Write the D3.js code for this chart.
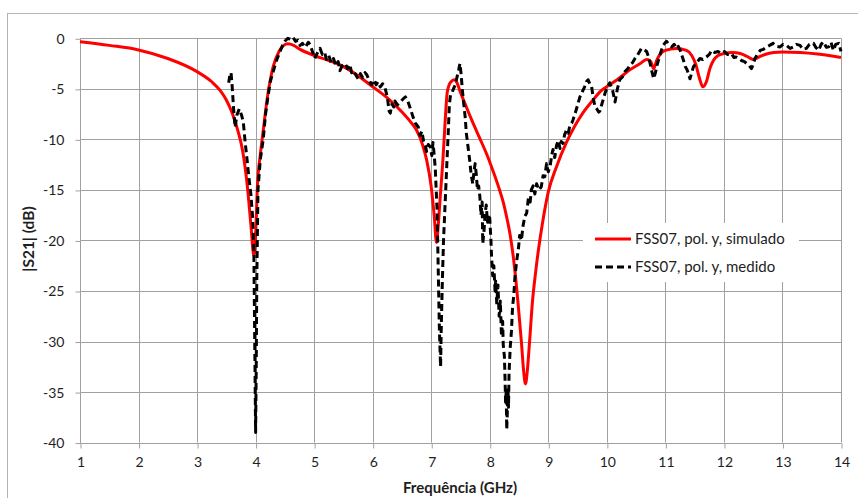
<!DOCTYPE html>
<html>
<head>
<meta charset="utf-8">
<script src="https://cdn.jsdelivr.net/npm/d3@7"></script>
<style>
  html, body { margin: 0; padding: 0; background: #fff; }
  svg { display: block; font-family: Lato, "Open Sans", sans-serif; }
</style>
</head>
<body>
<svg id="chart" width="858" height="498"></svg>
<script>
// |S21| of FSS07, y polarisation: simulated vs measured
const xTicks = [1,2,3,4,5,6,7,8,9,10,11,12,13,14];
const yTicks = [0,-5,-10,-15,-20,-25,-30,-35,-40];

const seriesNames = ["FSS07, pol. y, simulado", "FSS07, pol. y, medido"];

// simulated response [GHz, dB]
const simulado = [
  [1,-0.33],[1.5,-0.7],[2,-1.15],[2.5,-2.0],[3,-3.3],[3.25,-4.3],[3.4,-5.2],[3.5,-6.1],[3.6,-7.4],
  [3.7,-9.2],[3.78,-11.2],[3.86,-14.7],[3.92,-18.5],[3.97,-21.5],[4.0,-19.5],[4.03,-14.7],[4.08,-11.5],
  [4.12,-9.6],[4.21,-5.5],[4.3,-2.8],[4.4,-1.3],[4.48,-0.7],[4.55,-0.55],[4.65,-0.7],[4.76,-1.1],
  [5.0,-1.7],[5.25,-2.2],[5.5,-2.8],[5.75,-3.7],[6.0,-4.8],[6.25,-5.9],[6.5,-7.3],[6.65,-8.3],
  [6.75,-9.1],[6.85,-10.5],[6.92,-12],[7.0,-14.7],[7.05,-17.5],[7.09,-20.2],[7.12,-18.5],[7.15,-16],
  [7.2,-12],[7.24,-8],[7.27,-5.5],[7.3,-4.7],[7.34,-4.3],[7.39,-4.1],[7.44,-4.4],[7.49,-5.2],
  [7.6,-6.8],[7.7,-8.2],[7.83,-9.9],[7.95,-11.5],[8.06,-13.2],[8.15,-14.7],[8.23,-16.2],[8.3,-18],
  [8.35,-19.5],[8.42,-22.5],[8.48,-26],[8.54,-30],[8.58,-33],[8.61,-34.2],[8.64,-33],[8.68,-30],
  [8.73,-26],[8.78,-23.3],[8.83,-21],[8.9,-18.3],[9.0,-15.2],[9.14,-12.7],[9.31,-10.3],[9.45,-8.7],
  [9.6,-7.3],[9.75,-6.2],[9.9,-5.2],[10.05,-4.6],[10.22,-3.9],[10.4,-3.1],[10.57,-2.5],[10.68,-2.1],
  [10.75,-2.3],[10.8,-3.0],[10.85,-2.2],[10.92,-1.5],[11.0,-1.2],[11.19,-1.0],[11.36,-1.2],[11.45,-1.7],
  [11.52,-2.6],[11.58,-3.9],[11.64,-4.8],[11.7,-4.3],[11.76,-3.0],[11.82,-2.2],[11.9,-1.7],[12.0,-1.5],
  [12.15,-1.4],[12.28,-1.5],[12.4,-1.8],[12.5,-2.1],[12.58,-1.9],[12.7,-1.6],[12.85,-1.4],[13.0,-1.35],
  [13.3,-1.4],[13.6,-1.55],[14,-1.9]
];

// measured response [GHz, dB]
const medido = [
  [3.54,-4.4],[3.56,-3.6],[3.58,-3.4],[3.6,-4.8],[3.63,-7.5],[3.65,-8.8],[3.68,-7.6],[3.72,-7.0],
  [3.76,-7.6],[3.79,-8.3],[3.82,-10.2],[3.85,-11.8],[3.88,-13.5],[3.92,-15.5],[3.95,-17.8],[3.97,-21],
  [3.98,-27],[3.99,-33],[4.0,-39],[4.01,-33],[4.02,-24],[4.04,-15],[4.08,-12],[4.13,-10],[4.17,-7.5],
  [4.21,-5.8],[4.25,-4.3],[4.29,-3.5],[4.35,-2.3],[4.41,-1.4],[4.46,-0.7],[4.5,-0.3],[4.55,0.0],
  [4.6,-0.1],[4.64,0.1],[4.68,-0.3],[4.72,-0.2],[4.76,-0.7],[4.8,-0.5],[4.85,-0.9],[4.9,-0.4],
  [4.93,-0.6],[4.97,-1.3],[5.01,-2.0],[5.05,-1.5],[5.1,-1.0],[5.14,-1.6],[5.18,-1.4],[5.21,-2.1],
  [5.25,-1.7],[5.29,-2.4],[5.33,-2.0],[5.37,-2.7],[5.41,-2.3],[5.44,-3.2],[5.48,-2.7],[5.53,-2.5],
  [5.57,-3.0],[5.61,-2.6],[5.64,-3.4],[5.67,-3.2],[5.71,-3.6],[5.75,-4.0],[5.79,-3.5],[5.83,-3.9],
  [5.87,-3.4],[5.9,-3.6],[5.94,-4.2],[5.98,-4.6],[6.02,-4.1],[6.06,-4.6],[6.09,-4.3],[6.13,-4.8],
  [6.17,-4.5],[6.21,-4.9],[6.25,-5.8],[6.28,-7.2],[6.3,-7.4],[6.33,-6.5],[6.36,-6.8],[6.38,-6.2],
  [6.42,-6.6],[6.47,-6.3],[6.52,-6.0],[6.56,-5.8],[6.6,-6.2],[6.64,-6.9],[6.69,-7.8],[6.73,-8.4],
  [6.78,-8.8],[6.81,-9.6],[6.84,-9.2],[6.87,-10.2],[6.9,-10.6],[6.92,-11.2],[6.95,-10.5],[6.98,-10.7],
  [7.01,-11.6],[7.03,-10.3],[7.05,-11.5],[7.07,-13],[7.1,-17],[7.12,-23],[7.14,-29],[7.16,-32.5],
  [7.17,-29],[7.19,-24],[7.21,-20],[7.24,-16],[7.27,-12],[7.29,-9.4],[7.31,-6.5],[7.33,-5.6],
  [7.36,-5.3],[7.38,-5.0],[7.41,-4.6],[7.43,-4.1],[7.45,-3.6],[7.47,-3.1],[7.49,-2.5],[7.51,-3.5],
  [7.53,-5.0],[7.55,-6.2],[7.58,-7.8],[7.6,-9.4],[7.63,-10.8],[7.66,-12.2],[7.68,-13.4],[7.71,-14.4],
  [7.73,-13.2],[7.75,-12.4],[7.77,-13.5],[7.79,-15],[7.81,-14.6],[7.83,-15.6],[7.85,-17.5],[7.87,-16.2],
  [7.88,-20.3],[7.9,-19.2],[7.92,-17.4],[7.94,-16.5],[7.96,-18.2],[7.98,-17.4],[8.0,-17.8],[8.02,-20],
  [8.03,-21.5],[8.05,-23.5],[8.07,-22.5],[8.09,-25],[8.1,-24],[8.12,-26.3],[8.14,-24.4],[8.16,-27.5],
  [8.18,-26],[8.2,-29.5],[8.22,-28],[8.23,-30.3],[8.25,-31.5],[8.26,-33.5],[8.27,-36],[8.28,-35],
  [8.29,-38.7],[8.3,-37],[8.31,-34.5],[8.32,-36.5],[8.33,-33],[8.35,-30.5],[8.37,-29],[8.39,-26.5],
  [8.41,-25.5],[8.43,-23.6],[8.46,-22],[8.49,-20.8],[8.51,-19.5],[8.54,-20],[8.57,-18.5],[8.6,-17.6],
  [8.63,-17.3],[8.66,-15.8],[8.69,-16.2],[8.71,-15.0],[8.74,-14.6],[8.77,-15.4],[8.8,-14.4],[8.84,-15.0],
  [8.88,-14.7],[8.91,-13.6],[8.94,-13.7],[8.97,-12.4],[9.0,-13.2],[9.03,-12.7],[9.06,-11.5],[9.08,-11.0],
  [9.11,-11.8],[9.14,-10.6],[9.17,-10.1],[9.2,-10.9],[9.22,-10.2],[9.25,-10.4],[9.28,-9.5],[9.31,-9.1],
  [9.34,-9.4],[9.37,-8.6],[9.4,-8.4],[9.42,-8.1],[9.46,-7.4],[9.5,-6.6],[9.54,-5.8],[9.58,-5.3],
  [9.62,-4.8],[9.65,-4.3],[9.68,-4.1],[9.71,-4.5],[9.74,-4.8],[9.77,-6.0],[9.8,-6.8],[9.83,-7.0],
  [9.86,-7.3],[9.88,-7.2],[9.92,-6.4],[9.97,-5.4],[10.01,-4.8],[10.05,-4.4],[10.1,-5.2],[10.14,-6.3],
  [10.18,-5.0],[10.22,-4.1],[10.27,-3.8],[10.31,-3.3],[10.36,-3.0],[10.4,-2.6],[10.44,-2.4],[10.48,-2.0],
  [10.52,-1.7],[10.56,-1.3],[10.59,-1.0],[10.63,-1.1],[10.68,-1.3],[10.71,-1.8],[10.74,-2.5],[10.77,-3.3],
  [10.8,-4.0],[10.83,-3.4],[10.86,-2.6],[10.88,-2.2],[10.92,-1.4],[10.96,-0.7],[11.0,-0.4],[11.02,-0.3],
  [11.06,-0.6],[11.11,-0.85],[11.15,-0.6],[11.19,-1.0],[11.22,-0.8],[11.26,-1.3],[11.31,-2.2],[11.34,-2.8],
  [11.37,-3.1],[11.4,-3.6],[11.42,-4.0],[11.45,-3.4],[11.48,-2.8],[11.52,-2.5],[11.55,-2.3],[11.59,-2.0],
  [11.64,-2.1],[11.7,-1.85],[11.75,-1.6],[11.79,-1.2],[11.84,-1.4],[11.9,-1.3],[11.95,-1.5],[12.01,-1.3],
  [12.06,-1.6],[12.13,-1.5],[12.17,-1.9],[12.21,-1.85],[12.26,-2.0],[12.3,-2.2],[12.35,-2.3],[12.39,-2.5],
  [12.43,-2.7],[12.47,-3.0],[12.5,-2.6],[12.53,-2.0],[12.57,-1.6],[12.62,-1.2],[12.67,-1.1],[12.73,-0.85],
  [12.78,-0.7],[12.84,-0.5],[12.9,-0.8],[12.96,-0.85],[13.01,-0.6],[13.07,-0.7],[13.13,-1.0],[13.19,-0.85],
  [13.24,-0.6],[13.3,-0.7],[13.35,-1.1],[13.41,-1.0],[13.46,-0.6],[13.53,-0.5],[13.57,-0.9],[13.62,-1.2],
  [13.66,-0.6],[13.7,-0.35],[13.75,-0.9],[13.79,-0.85],[13.83,-0.4],[13.87,-1.2],[13.91,-0.6],[13.96,-0.5],
  [14.0,-1.3]
];

const svg = d3.select("#chart");
const plot = { left: 80, right: 841, top: 38.3, bottom: 442.6 };
const gridColor = "#a0a0a0";
const textColor = "#1e1e1e";
const fontFamily = "Lato, 'Open Sans', sans-serif";

// outer chart frame
svg.append("rect")
  .attr("x", 7.5).attr("y", 13.5)
  .attr("width", 900).attr("height", 600)
  .attr("fill", "#fff").attr("stroke", "#b4b4b4").attr("stroke-width", 1);

const x = d3.scaleLinear().domain([1, 14]).range([plot.left, plot.right]);
const y = d3.scaleLinear().domain([-40, 0]).range([plot.bottom, plot.top]);

// grid
const grid = svg.append("g").attr("class", "grid");
grid.selectAll("line.v").data(xTicks).join("line")
  .attr("class", "v")
  .attr("x1", d => Math.round(x(d)) + 0.5).attr("x2", d => Math.round(x(d)) + 0.5)
  .attr("y1", y(0)).attr("y2", y(-40))
  .attr("stroke", gridColor).attr("stroke-width", 1);
grid.selectAll("line.h").data(yTicks).join("line")
  .attr("class", "h")
  .attr("x1", plot.left).attr("x2", plot.right)
  .attr("y1", d => Math.round(y(d)) + 0.5).attr("y2", d => Math.round(y(d)) + 0.5)
  .attr("stroke", gridColor).attr("stroke-width", 1);

// axes (plain hyphen for negative values)
const fmt = d => String(d);
const xAxis = d3.axisBottom(x).tickValues(xTicks).tickSize(5).tickPadding(9).tickFormat(fmt);
const yAxis = d3.axisLeft(y).tickValues(yTicks).tickSize(5).tickPadding(11).tickFormat(fmt);

const gx = svg.append("g")
  .attr("transform", `translate(0.5,${Math.round(y(-40)) + 0.5})`)
  .call(xAxis);
const gy = svg.append("g")
  .attr("transform", `translate(${plot.left + 0.5},0.5)`)
  .call(yAxis);
[gx, gy].forEach(g => {
  g.select(".domain").attr("stroke", gridColor);
  g.selectAll(".tick line").attr("stroke", gridColor);
  g.selectAll(".tick text").attr("fill", textColor)
    .style("font-size", "14px").style("font-family", fontFamily);
});
gy.select(".domain").attr("d", `M0,${y(0)}V${y(-40)}`);
gx.select(".domain").attr("d", `M${plot.left},0H${plot.right}`);

// axis titles
svg.append("text")
  .attr("x", 460).attr("y", 493)
  .attr("text-anchor", "middle")
  .attr("fill", textColor)
  .style("font-size", "15px").style("font-weight", "bold")
  .text("Frequência (GHz)");
svg.append("text")
  .attr("transform", "translate(34,239) rotate(-90)")
  .attr("text-anchor", "middle")
  .attr("fill", textColor)
  .style("font-size", "15.5px").style("font-weight", "bold")
  .text("|S21| (dB)");

// curves
const lineSim = d3.line().x(d => x(d[0])).y(d => y(d[1])).curve(d3.curveMonotoneX);
const lineMed = d3.line().x(d => x(d[0])).y(d => y(d[1])).curve(d3.curveLinear);

svg.append("path")
  .datum(simulado)
  .attr("d", lineSim)
  .attr("fill", "none")
  .attr("stroke", "#ff0000")
  .attr("stroke-width", 3)
  .attr("stroke-linejoin", "round");

svg.append("path")
  .datum(medido)
  .attr("d", lineMed)
  .attr("fill", "none")
  .attr("stroke", "#000")
  .attr("stroke-width", 3)
  .attr("stroke-dasharray", "7,4")
  .attr("stroke-linejoin", "round");

// legend
const legend = svg.append("g").attr("class", "legend");
legend.append("rect")
  .attr("x", 583).attr("y", 223).attr("width", 216).attr("height", 59)
  .attr("fill", "#fff");
const legendItems = [
  { name: seriesNames[0], color: "#ff0000", dash: null, y: 239 },
  { name: seriesNames[1], color: "#000", dash: "7,4", y: 267 }
];
legendItems.forEach(it => {
  legend.append("line")
    .attr("x1", 595).attr("x2", 631).attr("y1", it.y).attr("y2", it.y)
    .attr("stroke", it.color).attr("stroke-width", 3)
    .attr("stroke-dasharray", it.dash);
  legend.append("text")
    .attr("x", 635).attr("y", it.y).attr("dy", "0.35em")
    .attr("fill", textColor)
    .style("font-size", "15px").style("font-family", fontFamily)
    .text(it.name);
});
</script>
</body>
</html>
